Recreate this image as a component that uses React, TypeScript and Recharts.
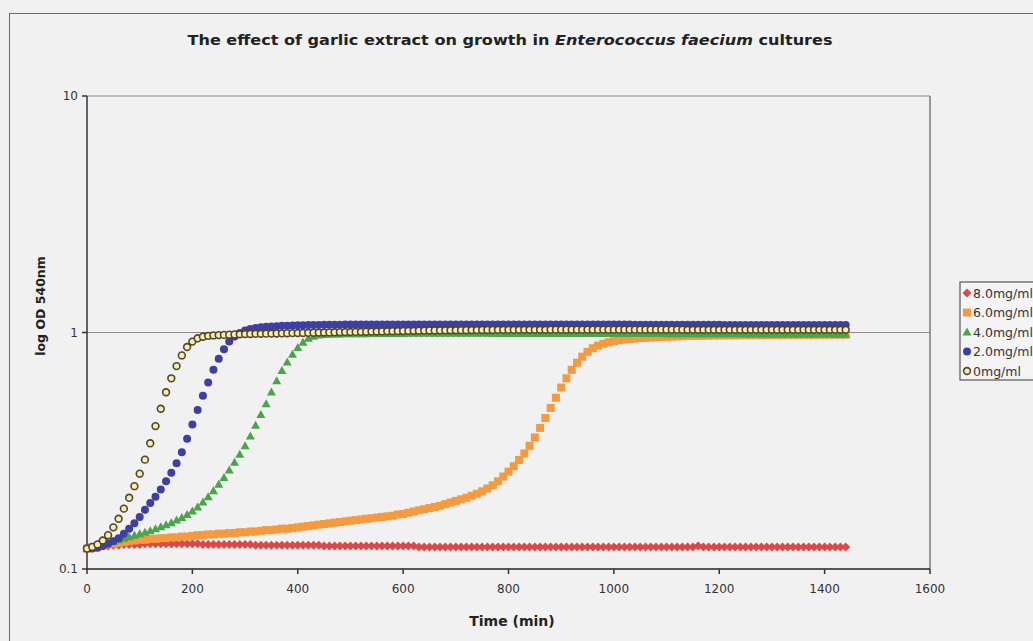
import { ScatterChart, Scatter, XAxis, YAxis, CartesianGrid, ReferenceLine } from "recharts";

// sampling times (min)
const TIME_MIN = [
  0, 10, 20, 30, 40, 50, 60, 70, 80, 90,
  100, 110, 120, 130, 140, 150, 160, 170, 180, 190,
  200, 210, 220, 230, 240, 250, 260, 270, 280, 290,
  300, 310, 320, 330, 340, 350, 360, 370, 380, 390,
  400, 410, 420, 430, 440, 450, 460, 470, 480, 490,
  500, 510, 520, 530, 540, 550, 560, 570, 580, 590,
  600, 610, 620, 630, 640, 650, 660, 670, 680, 690,
  700, 710, 720, 730, 740, 750, 760, 770, 780, 790,
  800, 810, 820, 830, 840, 850, 860, 870, 880, 890,
  900, 910, 920, 930, 940, 950, 960, 970, 980, 990,
  1000, 1010, 1020, 1030, 1040, 1050, 1060, 1070, 1080, 1090,
  1100, 1110, 1120, 1130, 1140, 1150, 1160, 1170, 1180, 1190,
  1200, 1210, 1220, 1230, 1240, 1250, 1260, 1270, 1280, 1290,
  1300, 1310, 1320, 1330, 1340, 1350, 1360, 1370, 1380, 1390,
  1400, 1410, 1420, 1430, 1440,
];

const OD_8MG = [
  0.122, 0.123, 0.124, 0.125, 0.125, 0.126, 0.126, 0.127, 0.127, 0.127,
  0.127, 0.128, 0.128, 0.128, 0.128, 0.128, 0.128, 0.128, 0.128, 0.128,
  0.128, 0.128, 0.127, 0.127, 0.127, 0.127, 0.127, 0.127, 0.127, 0.127,
  0.127, 0.127, 0.126, 0.126, 0.126, 0.126, 0.126, 0.126, 0.126, 0.126,
  0.126, 0.126, 0.126, 0.126, 0.126, 0.125, 0.125, 0.125, 0.125, 0.125,
  0.125, 0.125, 0.125, 0.125, 0.125, 0.125, 0.125, 0.125, 0.125, 0.125,
  0.125, 0.125, 0.125, 0.124, 0.124, 0.124, 0.124, 0.124, 0.124, 0.124,
  0.124, 0.124, 0.124, 0.124, 0.124, 0.124, 0.124, 0.124, 0.124, 0.124,
  0.124, 0.124, 0.124, 0.124, 0.124, 0.124, 0.124, 0.124, 0.124, 0.124,
  0.124, 0.124, 0.124, 0.124, 0.124, 0.124, 0.124, 0.124, 0.124, 0.124,
  0.124, 0.124, 0.124, 0.124, 0.124, 0.124, 0.124, 0.124, 0.124, 0.124,
  0.124, 0.124, 0.124, 0.124, 0.124, 0.124, 0.125, 0.124, 0.124, 0.124,
  0.124, 0.124, 0.124, 0.124, 0.124, 0.124, 0.124, 0.124, 0.124, 0.124,
  0.124, 0.124, 0.124, 0.124, 0.124, 0.124, 0.124, 0.124, 0.124, 0.124,
  0.124, 0.124, 0.124, 0.124, 0.124,
];

const OD_6MG = [
  0.122, 0.124, 0.125, 0.126, 0.127, 0.128, 0.129, 0.130, 0.131, 0.132,
  0.133, 0.133, 0.134, 0.134, 0.135, 0.135, 0.136, 0.136, 0.137, 0.137,
  0.138, 0.139, 0.139, 0.140, 0.140, 0.141, 0.141, 0.142, 0.142, 0.143,
  0.143, 0.144, 0.144, 0.145, 0.146, 0.146, 0.147, 0.148, 0.148, 0.149,
  0.150, 0.151, 0.152, 0.153, 0.154, 0.155, 0.156, 0.157, 0.158, 0.159,
  0.160, 0.161, 0.162, 0.163, 0.164, 0.165, 0.166, 0.167, 0.168, 0.170,
  0.171, 0.173, 0.175, 0.177, 0.179, 0.181, 0.183, 0.185, 0.188, 0.191,
  0.194, 0.197, 0.200, 0.204, 0.208, 0.213, 0.219, 0.226, 0.235, 0.246,
  0.258, 0.272, 0.289, 0.308, 0.332, 0.360, 0.395, 0.435, 0.480, 0.530,
  0.585, 0.640, 0.695, 0.745, 0.790, 0.828, 0.858, 0.880, 0.897, 0.910,
  0.920, 0.928, 0.934, 0.939, 0.943, 0.947, 0.950, 0.953, 0.955, 0.957,
  0.959, 0.961, 0.963, 0.965, 0.966, 0.967, 0.968, 0.969, 0.970, 0.971,
  0.972, 0.972, 0.973, 0.973, 0.974, 0.974, 0.975, 0.975, 0.975, 0.976,
  0.976, 0.976, 0.977, 0.977, 0.977, 0.977, 0.978, 0.978, 0.978, 0.978,
  0.978, 0.979, 0.979, 0.979, 0.979,
];

const OD_4MG = [
  0.122, 0.123, 0.125, 0.127, 0.129, 0.131, 0.133, 0.135, 0.137, 0.139,
  0.141, 0.143, 0.145, 0.148, 0.151, 0.154, 0.157, 0.161, 0.165, 0.170,
  0.176, 0.183, 0.192, 0.202, 0.214, 0.228, 0.244, 0.262, 0.283, 0.306,
  0.332, 0.365, 0.405, 0.450, 0.500, 0.560, 0.625, 0.690, 0.750, 0.810,
  0.865, 0.910, 0.945, 0.965, 0.975, 0.980, 0.983, 0.985, 0.986, 0.987,
  0.988, 0.988, 0.989, 0.989, 0.990, 0.990, 0.990, 0.991, 0.991, 0.991,
  0.991, 0.992, 0.992, 0.992, 0.992, 0.992, 0.992, 0.992, 0.992, 0.992,
  0.992, 0.992, 0.992, 0.992, 0.992, 0.992, 0.992, 0.991, 0.991, 0.991,
  0.991, 0.991, 0.991, 0.991, 0.991, 0.991, 0.991, 0.991, 0.991, 0.991,
  0.991, 0.991, 0.990, 0.990, 0.990, 0.990, 0.990, 0.990, 0.990, 0.990,
  0.990, 0.990, 0.990, 0.990, 0.990, 0.990, 0.990, 0.990, 0.990, 0.990,
  0.989, 0.989, 0.989, 0.989, 0.989, 0.988, 0.988, 0.988, 0.988, 0.988,
  0.987, 0.987, 0.987, 0.987, 0.987, 0.986, 0.986, 0.986, 0.986, 0.986,
  0.986, 0.986, 0.985, 0.985, 0.985, 0.985, 0.985, 0.985, 0.985, 0.985,
  0.985, 0.985, 0.984, 0.984, 0.984,
];

const OD_2MG = [
  0.122, 0.122, 0.123, 0.125, 0.128, 0.131, 0.135, 0.141, 0.148, 0.156,
  0.166, 0.178, 0.190, 0.202, 0.217, 0.235, 0.255, 0.280, 0.312, 0.355,
  0.408, 0.470, 0.540, 0.615, 0.695, 0.775, 0.850, 0.915, 0.962, 0.995,
  1.020, 1.035, 1.045, 1.052, 1.057, 1.061, 1.064, 1.067, 1.069, 1.071,
  1.073, 1.074, 1.075, 1.076, 1.077, 1.078, 1.078, 1.079, 1.079, 1.080,
  1.080, 1.080, 1.081, 1.081, 1.081, 1.081, 1.082, 1.082, 1.082, 1.082,
  1.082, 1.082, 1.082, 1.082, 1.082, 1.082, 1.082, 1.082, 1.082, 1.082,
  1.082, 1.082, 1.082, 1.082, 1.082, 1.082, 1.082, 1.081, 1.081, 1.081,
  1.081, 1.081, 1.081, 1.081, 1.081, 1.081, 1.081, 1.081, 1.081, 1.081,
  1.080, 1.080, 1.080, 1.080, 1.080, 1.080, 1.080, 1.080, 1.080, 1.080,
  1.080, 1.080, 1.080, 1.080, 1.079, 1.079, 1.079, 1.079, 1.079, 1.079,
  1.079, 1.079, 1.078, 1.078, 1.078, 1.078, 1.078, 1.078, 1.078, 1.078,
  1.078, 1.077, 1.077, 1.077, 1.077, 1.077, 1.077, 1.077, 1.077, 1.077,
  1.076, 1.076, 1.076, 1.076, 1.076, 1.076, 1.076, 1.076, 1.076, 1.076,
  1.076, 1.076, 1.076, 1.075, 1.075,
];

const OD_0MG = [
  0.122, 0.124, 0.127, 0.132, 0.139, 0.150, 0.163, 0.180, 0.200, 0.224,
  0.253, 0.290, 0.340, 0.402, 0.476, 0.559, 0.640, 0.721, 0.800, 0.868,
  0.915, 0.945, 0.960, 0.968, 0.972, 0.975, 0.977, 0.979, 0.981, 0.983,
  0.985, 0.986, 0.987, 0.988, 0.989, 0.990, 0.991, 0.992, 0.993, 0.994,
  0.995, 0.996, 0.997, 0.998, 0.999, 1.000, 1.001, 1.002, 1.003, 1.004,
  1.005, 1.006, 1.007, 1.008, 1.009, 1.010, 1.011, 1.012, 1.013, 1.014,
  1.015, 1.016, 1.017, 1.018, 1.019, 1.020, 1.020, 1.021, 1.021, 1.022,
  1.022, 1.023, 1.023, 1.024, 1.024, 1.025, 1.025, 1.025, 1.026, 1.026,
  1.026, 1.026, 1.027, 1.027, 1.027, 1.027, 1.027, 1.027, 1.028, 1.028,
  1.028, 1.028, 1.028, 1.028, 1.028, 1.028, 1.028, 1.028, 1.028, 1.028,
  1.028, 1.028, 1.028, 1.028, 1.028, 1.028, 1.028, 1.028, 1.028, 1.028,
  1.028, 1.028, 1.028, 1.028, 1.027, 1.027, 1.027, 1.027, 1.027, 1.027,
  1.027, 1.027, 1.027, 1.027, 1.027, 1.027, 1.027, 1.027, 1.027, 1.027,
  1.027, 1.027, 1.027, 1.027, 1.027, 1.027, 1.027, 1.027, 1.027, 1.027,
  1.027, 1.027, 1.027, 1.027, 1.027,
];

const X_TICKS = [0, 200, 400, 600, 800, 1000, 1200, 1400, 1600];
const Y_TICKS = [0.1, 1, 10];

const FONT = "'DejaVu Sans', Verdana, sans-serif";

const toPoints = (vals: number[]) => TIME_MIN.map((t, i) => ({ t, v: vals[i] }));

const Diamond = ({ cx, cy }: any) => (
  <polygon points={`${cx},${cy - 4.5} ${cx + 4.5},${cy} ${cx},${cy + 4.5} ${cx - 4.5},${cy}`} fill="#dc4848" />
);
const Square = ({ cx, cy }: any) => (
  <rect x={cx - 4} y={cy - 4} width={8} height={8} fill="#f59a3f" />
);
const Triangle = ({ cx, cy }: any) => (
  <polygon points={`${cx},${cy - 4.5} ${cx + 4.5},${cy + 3.5} ${cx - 4.5},${cy + 3.5}`} fill="#4aa54a" />
);
const Dot = ({ cx, cy }: any) => <circle cx={cx} cy={cy} r={4} fill="#3d3fa5" />;
const Ring = ({ cx, cy }: any) => (
  <circle cx={cx} cy={cy} r={3.4} fill="#f4eeb5" stroke="#524528" strokeWidth={1.6} />
);

const SERIES = [
  { name: "8.0mg/ml", data: toPoints(OD_8MG), shape: Diamond },
  { name: "6.0mg/ml", data: toPoints(OD_6MG), shape: Square },
  { name: "4.0mg/ml", data: toPoints(OD_4MG), shape: Triangle },
  { name: "2.0mg/ml", data: toPoints(OD_2MG), shape: Dot },
  { name: "0mg/ml", data: toPoints(OD_0MG), shape: Ring },
];

export default function App() {
  return (
    <div
      style={{
        position: "fixed",
        left: 0,
        top: 0,
        width: 1033,
        height: 641,
        overflow: "hidden",
        background: "#f1f1f1",
        fontFamily: FONT,
      }}
    >
      <div
        style={{
          position: "absolute",
          left: 9,
          top: 13,
          width: 1100,
          height: 700,
          border: "1.5px solid #6a6a6a",
        }}
      />
      <div style={{ position: "absolute", left: 0, top: 0 }}>
        <ScatterChart width={1033} height={641} margin={{ top: 96, right: 103, bottom: 42, left: 47 }}>
          <CartesianGrid vertical={false} stroke="#8a8a8a" strokeWidth={1.2} />
          <XAxis
            type="number"
            dataKey="t"
            domain={[0, 1600]}
            ticks={X_TICKS}
            height={30}
            tickSize={5}
            tickMargin={10}
            stroke="#3a3232"
            strokeWidth={1.5}
            tick={{ fontSize: 12, fill: "#333", fontFamily: FONT }}
          />
          <YAxis
            type="number"
            dataKey="v"
            scale="log"
            domain={[0.1, 10]}
            ticks={Y_TICKS}
            allowDataOverflow
            width={40}
            tickSize={5}
            tickMargin={4}
            stroke="#3a3232"
            strokeWidth={1.5}
            tick={{ fontSize: 12, fill: "#333", fontFamily: FONT }}
          />
          <ReferenceLine x={1600} stroke="#7a7a7a" strokeWidth={1.5} />
          {SERIES.map((s) => (
            <Scatter key={s.name} name={s.name} data={s.data} shape={s.shape} isAnimationActive={false} />
          ))}
        </ScatterChart>
      </div>
      <svg
        width={1033}
        height={641}
        style={{ position: "absolute", left: 0, top: 0, pointerEvents: "none" }}
        fontFamily={FONT}
      >
        <text
          x={510}
          y={45}
          textAnchor="middle"
          fontWeight="bold"
          fontSize={14}
          fill="#222"
          textLength={645}
          lengthAdjust="spacingAndGlyphs"
        >
          The effect of garlic extract on growth in{" "}
          <tspan fontStyle="italic">Enterococcus faecium</tspan> cultures
        </text>
        <text
          transform="translate(45,306) rotate(-90)"
          textAnchor="middle"
          fontWeight="bold"
          fontSize={12.5}
          fill="#222"
        >
          log OD 540nm
        </text>
        <text x={512} y={626} textAnchor="middle" fontWeight="bold" fontSize={14} fill="#222">
          Time (min)
        </text>
        <rect x={960} y={282} width={100} height={98} fill="#f4f4f4" stroke="#555" strokeWidth={1.2} />
        {SERIES.map((s, i) => {
          const y = 293 + i * 19.5;
          const Shape = s.shape;
          return (
            <g key={s.name}>
              <Shape cx={967} cy={y} />
              <text x={973} y={y + 4.5} fontSize={12.5} fill="#333">
                {s.name}
              </text>
            </g>
          );
        })}
      </svg>
    </div>
  );
}
